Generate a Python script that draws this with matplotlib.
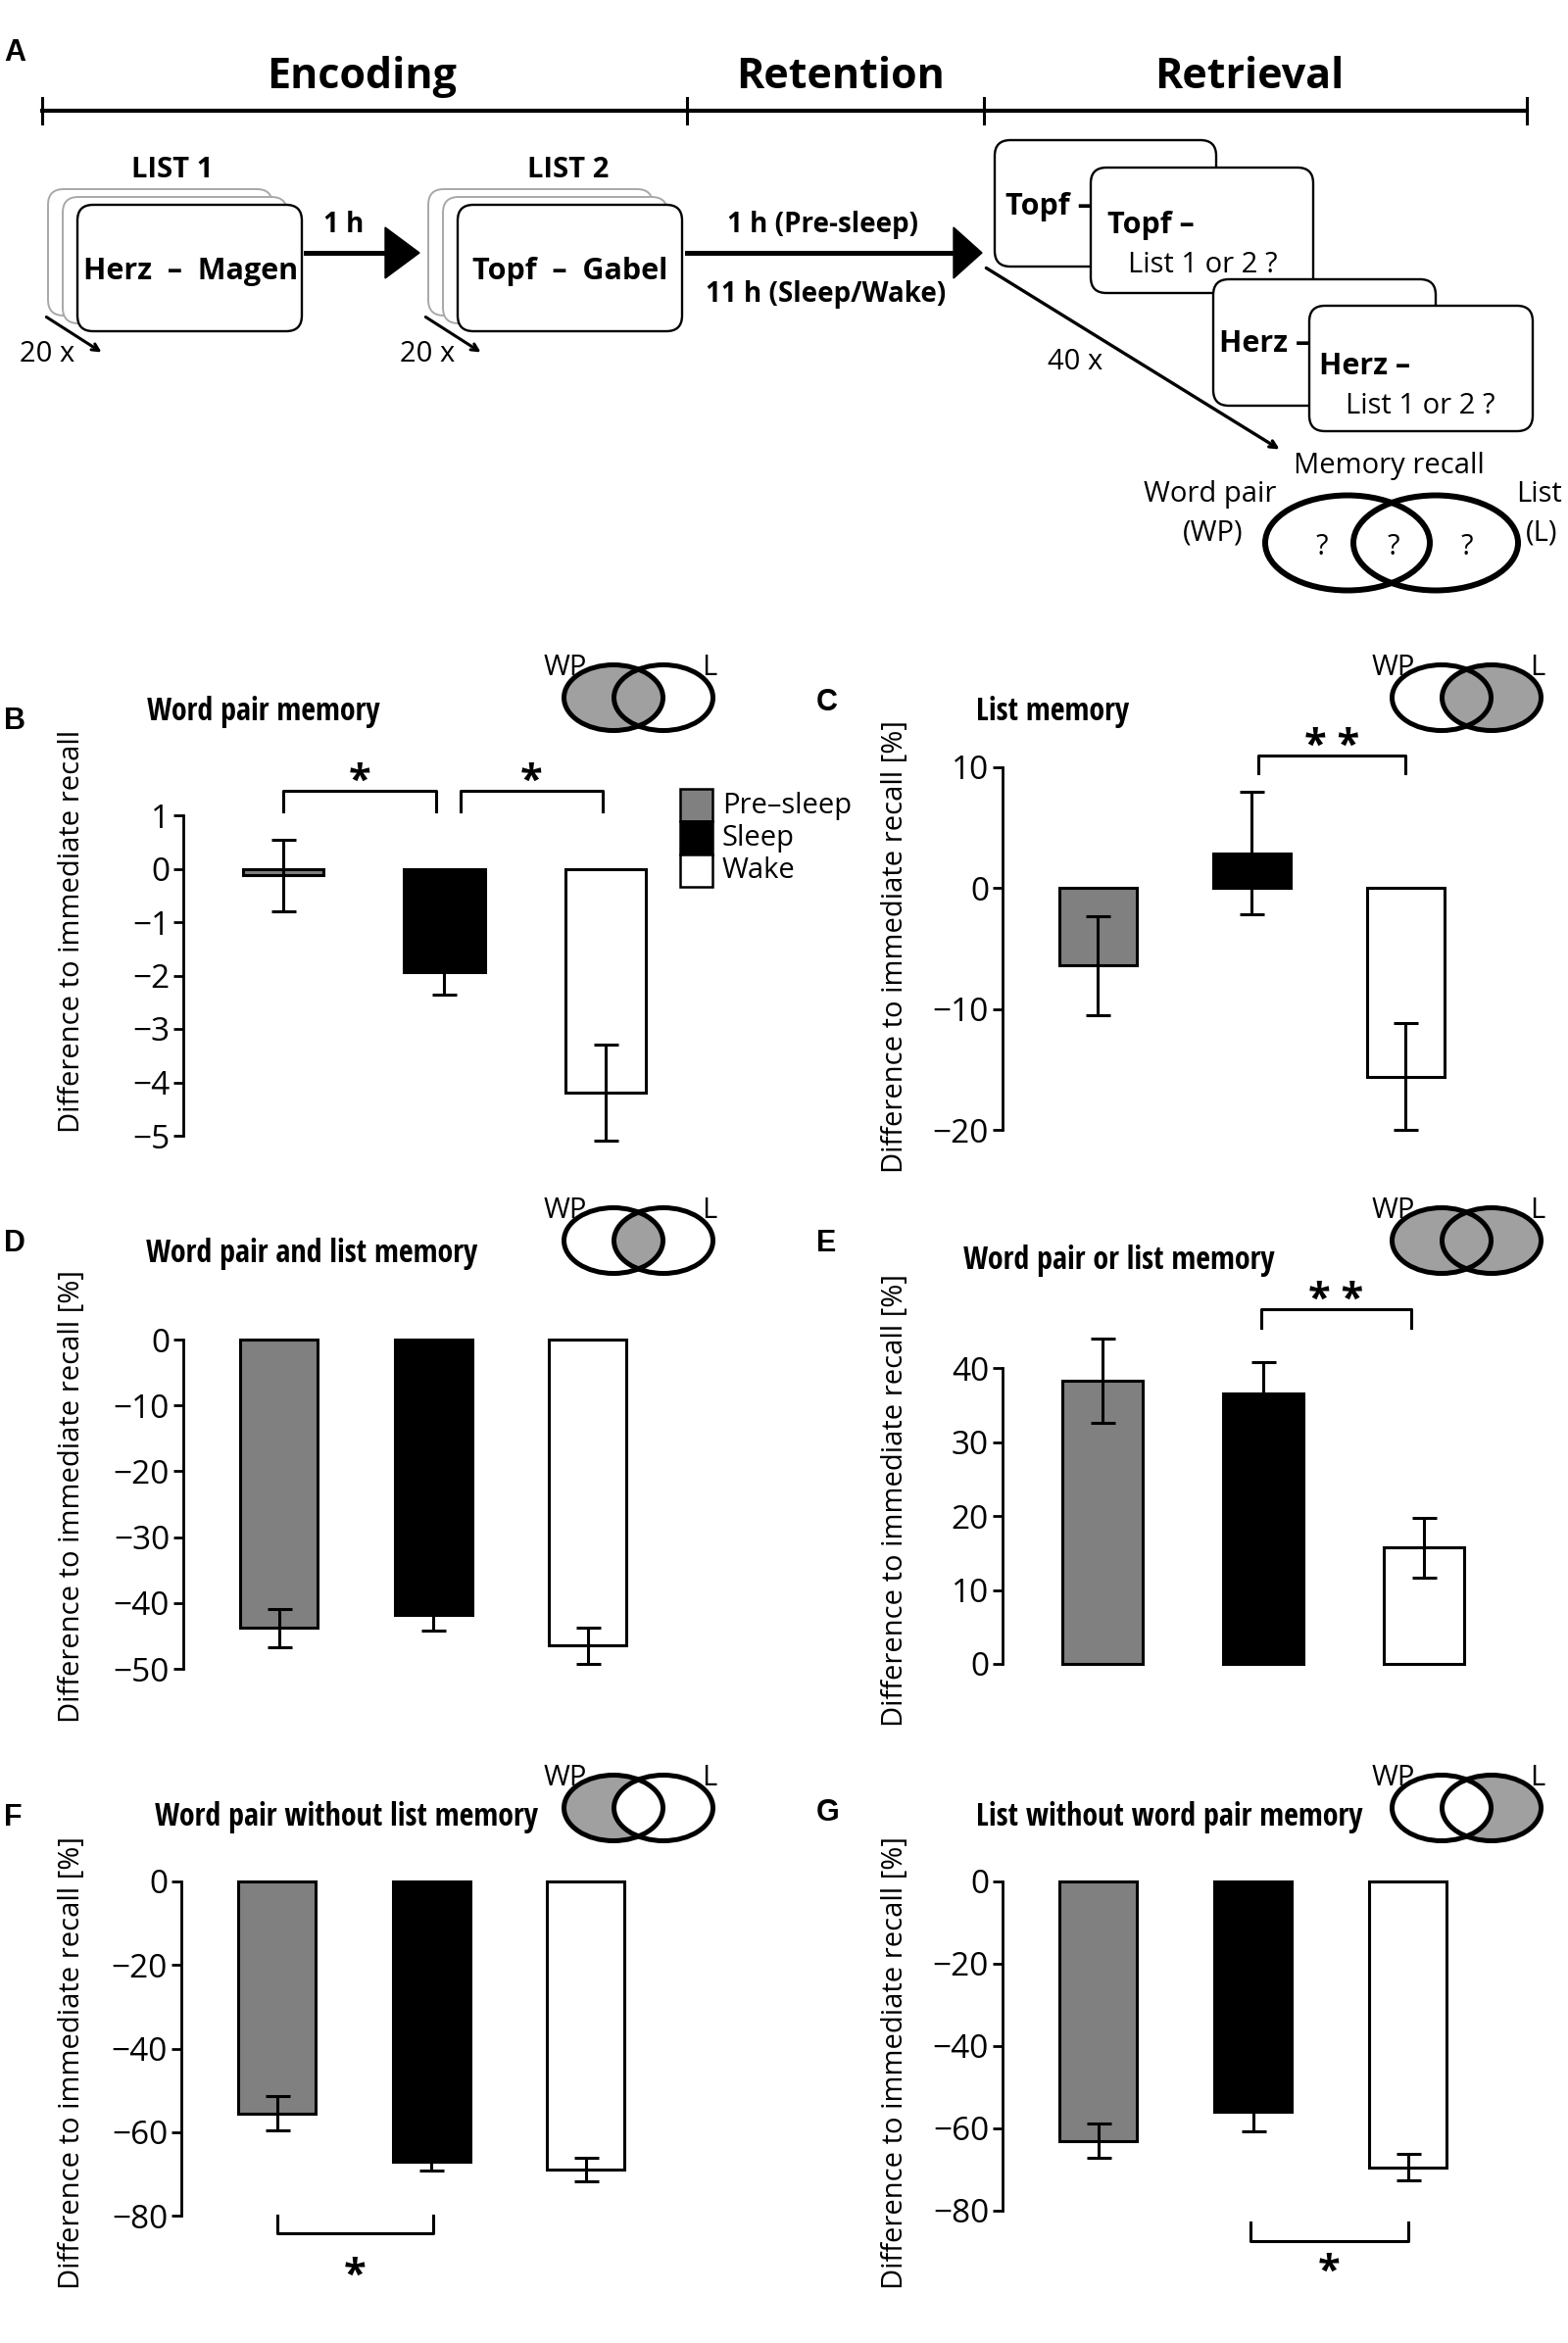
import matplotlib
matplotlib.use('Agg')
import matplotlib.pyplot as plt
from matplotlib import font_manager as fm
from matplotlib.patches import FancyBboxPatch, Ellipse, Polygon, Rectangle
import numpy as np

plt.rcParams['font.family'] = ['Open Sans', 'DejaVu Sans']
plt.rcParams['axes.unicode_minus'] = True

# ---- data ----
groups = ['Pre\u2013sleep', 'Sleep', 'Wake']
colors = ['#808080', '#000000', '#ffffff']

wp_mean = [-0.12, -1.93, -4.2]          # B word pair memory
wp_err = [0.67, 0.42, 0.9]
list_mean = [-6.4, 2.9, -15.6]          # C list memory
list_err = [4.1, 5.1, 4.4]
and_mean = [-43.8, -41.8, -46.5]        # D word pair and list
and_err = [2.9, 2.4, 2.7]
or_mean = [38.3, 36.5, 15.7]            # E word pair or list
or_err = [5.7, 4.3, 4.1]
wponly_mean = [-55.5, -67.0, -69.0]     # F word pair without list
wponly_err = [4.1, 2.2, 2.8]
lonly_mean = [-63.0, -56.0, -69.5]      # G list without word pair
lonly_err = [4.2, 4.7, 3.2]

W, H = 1600, 2391
fig = plt.figure(figsize=(W / 100, H / 100), dpi=100)
ov = fig.add_axes([0, 0, 1, 1])
ov.set_xlim(0, W)
ov.set_ylim(H, 0)
ov.axis('off')

LETTER = ['Liberation Sans', 'DejaVu Sans']


def have(name):
    try:
        fm.findfont(fm.FontProperties(family=name, weight='bold'), fallback_to_default=False)
        return True
    except ValueError:
        return False


# condensed bold font for the panel titles, with a size that keeps the widths
COND, TSIZE = ['Open Sans'], 19
for name, size in [('Liberation Sans Narrow', 24), ('Open Sans Condensed', 23),
                   ('DejaVu Sans Condensed', 18)]:
    if have(name):
        COND, TSIZE = [name, 'Open Sans'], size
        break


def card(x0, y0, x1, y1, ec='k', lw=1.7, z=2):
    ov.add_patch(FancyBboxPatch((x0, y0), x1 - x0, y1 - y0,
                                boxstyle='round,pad=0,rounding_size=16',
                                fc='white', ec=ec, lw=lw, zorder=z))


def arrow_head(xtip, y, length, half):
    ov.add_patch(Polygon([(xtip - length, y - half), (xtip, y), (xtip - length, y + half)],
                         closed=True, fc='k', ec='k', zorder=3))


# ---- panel A ----
ov.text(4, 62, 'A', fontsize=22, fontweight='bold', family=LETTER, va='baseline')
phases = ['Encoding', 'Retention', 'Retrieval']
ov.plot([43, 1558], [113, 113], color='k', lw=3)
for x in [43, 701, 1004, 1558]:
    ov.plot([x, x], [100, 126], color='k', lw=2.2)
for name, x in zip(phases, [369, 858, 1275]):
    ov.text(x, 90, name, ha='center', va='baseline', fontsize=31, fontweight='bold')

for fx, lab, word, lx, tx in [(79, 'LIST 1', 'Herz  \u2013  Magen', 176, 195),
                              (467, 'LIST 2', 'Topf  \u2013  Gabel', 580, 582)]:
    for k in (2, 1):
        card(fx - 15 * k, 209 - 8 * k, fx - 15 * k + 229, 338 - 8 * k, ec='#a8a8a8', lw=1.4)
    card(fx, 209, fx + 229, 338)
    ov.text(lx, 181, lab, ha='center', va='baseline', fontsize=21, fontweight='bold')
    ov.text(tx, 285, word, ha='center', va='baseline', fontsize=22, fontweight='bold', zorder=5)

for x0 in (20, 408):
    ov.text(x0, 369, '20 x', ha='left', va='baseline', fontsize=21)
for (x0, y0, x1, y1) in [(45, 322, 106, 361), (432, 322, 493, 361)]:
    ov.annotate('', xy=(x1, y1), xytext=(x0, y0),
                arrowprops=dict(arrowstyle='->,head_length=0.5,head_width=0.25', lw=2.2, color='k'))

# arrows between phases
ov.plot([312, 396], [258, 258], color='k', lw=3.6)
arrow_head(428, 258, 35, 26)
ov.text(351, 237, '1 h', ha='center', va='baseline', fontsize=20, fontweight='bold')
ov.plot([701, 976], [258, 258], color='k', lw=3.6)
arrow_head(1002, 258, 29, 26)
ov.text(839, 237, '1 h (Pre-sleep)', ha='center', va='baseline', fontsize=20, fontweight='bold')
ov.text(843, 308, '11 h (Sleep/Wake)', ha='center', va='baseline', fontsize=20, fontweight='bold')

# retrieval cards
card(1015, 143, 1241, 272, z=1)
ov.text(1026, 219, 'Topf \u2013', fontsize=22, fontweight='bold', va='baseline', zorder=1.5)
card(1113, 171, 1340, 299, z=2)
ov.text(1130, 238, 'Topf \u2013', fontsize=22, fontweight='bold', va='baseline', zorder=2.5)
ov.text(1151, 278, 'List 1 or 2 ?', fontsize=21, va='baseline', zorder=2.5)
card(1238, 285, 1465, 414, z=3)
ov.text(1244, 359, 'Herz \u2013', fontsize=22, fontweight='bold', va='baseline', zorder=3.5)
card(1336, 312, 1564, 440, z=4)
ov.text(1346, 382, 'Herz \u2013', fontsize=22, fontweight='bold', va='baseline', zorder=4.5)
ov.text(1373, 422, 'List 1 or 2 ?', fontsize=21, va='baseline', zorder=4.5)

ov.annotate('', xy=(1308, 460), xytext=(1004, 272),
            arrowprops=dict(arrowstyle='->,head_length=0.5,head_width=0.25', lw=2.4, color='k'))
ov.text(1069, 377, '40 x', fontsize=21, va='baseline')
ov.text(1417, 483, 'Memory recall', ha='center', va='baseline', fontsize=21)
ov.text(1235, 512, 'Word pair', ha='center', va='baseline', fontsize=21)
ov.text(1238, 552, '(WP)', ha='center', va='baseline', fontsize=21)
ov.text(1570, 512, 'List', ha='center', va='baseline', fontsize=21)
ov.text(1573, 552, '(L)', ha='center', va='baseline', fontsize=21)
for cx in (1375, 1465):
    ov.add_patch(Ellipse((cx, 554), 168, 97, fc='none', ec='k', lw=4.3))
for qx in (1349, 1422, 1497):
    ov.text(qx, 566, '?', ha='center', va='baseline', fontsize=21)


# ---- small venn icons ----
def venn(cx, cy, mode, w=101, h=67, dx=51, lw=3.6, fillc='#a0a0a0'):
    L, R = (cx, cy), (cx + dx, cy)
    if mode in ('left', 'both', 'left_only'):
        ov.add_patch(Ellipse(L, w, h, fc=fillc, ec='none'))
    if mode in ('right', 'both', 'right_only'):
        ov.add_patch(Ellipse(R, w, h, fc=fillc, ec='none'))
    if mode == 'left_only':
        ov.add_patch(Ellipse(R, w, h, fc='white', ec='none'))
    if mode == 'right_only':
        ov.add_patch(Ellipse(L, w, h, fc='white', ec='none'))
    if mode == 'inter':
        clip = Ellipse(R, w, h, transform=ov.transData)
        e = Ellipse(L, w, h, fc=fillc, ec='none')
        ov.add_patch(e)
        e.set_clip_path(clip)
    ov.add_patch(Ellipse(L, w, h, fc='none', ec='k', lw=lw))
    ov.add_patch(Ellipse(R, w, h, fc='none', ec='k', lw=lw))
    ov.text(cx - 71, cy - 23, 'WP', fontsize=21, va='baseline')
    ov.text(cx + 90, cy - 23, 'L', fontsize=21, va='baseline')


def bar_panel(xaxis, ytop, ybot, spacing, ylim, ticks, means, errs):
    ax = fig.add_axes([xaxis / W, 1 - ybot / H, spacing * 3.22 / W, (ybot - ytop) / H])
    ax.set_xlim(-0.62, 2.6)
    ax.set_ylim(*ylim)
    ax.patch.set_alpha(0)
    x = np.arange(len(groups))
    ax.bar(x, means, width=0.5, color=colors, edgecolor='k', linewidth=2.2,
           zorder=2, clip_on=False)
    eb = ax.errorbar(x, means, yerr=errs, fmt='none', ecolor='k', elinewidth=2.2,
                     capsize=9, capthick=2.2, zorder=3)
    for art in list(eb.lines[1]) + list(eb.lines[2]):
        art.set_clip_on(False)
    for s in ['top', 'right', 'bottom']:
        ax.spines[s].set_visible(False)
    ax.spines['left'].set_linewidth(2)
    ax.set_xticks([])
    ax.set_yticks(ticks)
    ax.tick_params(axis='y', direction='out', length=7, width=2, labelsize=24, pad=3)
    return ax


def bracket(ax, x0, x1, ytop, yleg, ystar, label):
    ax.plot([x0, x0, x1, x1], [yleg, ytop, ytop, yleg], color='k', lw=2.2, clip_on=False)
    ax.annotate(label, xy=((x0 + x1) / 2, ystar), xytext=(0, -15), textcoords='offset points',
                ha='center', va='baseline', fontsize=30, fontweight='bold', annotation_clip=False)


def title(x, y, s):
    ov.text(x, y, s, ha='center', va='baseline', fontsize=TSIZE, fontweight='bold', family=COND)


ylab = 'Difference to immediate recall'

# B
axB = bar_panel(187, 832, 1159, 164.5, (-5, 1), np.arange(-5, 2), wp_mean, wp_err)
bracket(axB, 0, 0.95, 1.45, 1.08, 1.8, '*')
bracket(axB, 1.1, 1.98, 1.45, 1.08, 1.8, '*')
for i, (g, c) in enumerate(zip(groups, colors)):
    ov.add_patch(Rectangle((694, 805 + 33.3 * i), 33, 33.3, fc=c, ec='k', lw=1.8))
    ov.text(737, 830 + 33 * i, g, fontsize=21, va='baseline')
ov.text(74, 950, ylab, rotation=90, ha='center', va='center', fontsize=21)
ov.text(4, 744, 'B', fontsize=22, fontweight='bold', family=LETTER, va='baseline')
title(269, 735, 'Word pair memory')
venn(626, 712, 'left')

# C
axC = bar_panel(1023, 783, 1153, 157, (-20, 10), [-20, -10, 0, 10], list_mean, list_err)
bracket(axC, 1.04, 2.0, 10.98, 9.5, 12.5, '* *')
ov.text(913, 966, ylab + ' [%]', rotation=90, ha='center', va='center', fontsize=21)
ov.text(833, 725, 'C', fontsize=22, fontweight='bold', family=LETTER, va='baseline')
title(1074, 735, 'List memory')
venn(1471, 712, 'right')

# D
axD = bar_panel(187, 1367, 1703, 157.5, (-50, 0), np.arange(-50, 1, 10), and_mean, and_err)
ov.text(74, 1527, ylab + ' [%]', rotation=90, ha='center', va='center', fontsize=21)
ov.text(4, 1277, 'D', fontsize=22, fontweight='bold', family=LETTER, va='baseline')
title(318, 1288, 'Word pair and list memory')
venn(626, 1266, 'inter')

# E
axE = bar_panel(1023, 1396, 1698, 164, (0, 40), np.arange(0, 41, 10), or_mean, or_err)
bracket(axE, 0.99, 1.92, 47.9, 45.4, 50.5, '* *')
ov.text(913, 1531, ylab + ' [%]', rotation=90, ha='center', va='center', fontsize=21)
ov.text(833, 1277, 'E', fontsize=22, fontweight='bold', family=LETTER, va='baseline')
title(1142, 1295, 'Word pair or list memory')
venn(1471, 1266, 'both')

# F
axF = bar_panel(185, 1920, 2261, 157.5, (-80, 0), np.arange(-80, 1, 20), wponly_mean, wponly_err)
bracket(axF, 0, 1.01, -84.2, -80, -92.1, '*')
ov.text(74, 2105, ylab + ' [%]', rotation=90, ha='center', va='center', fontsize=21)
ov.text(4, 1863, 'F', fontsize=22, fontweight='bold', family=LETTER, va='baseline')
title(354, 1863, 'Word pair without list memory')
venn(626, 1845, 'left_only')

# G
axG = bar_panel(1023, 1920, 2256, 158, (-80, 0), np.arange(-80, 1, 20), lonly_mean, lonly_err)
bracket(axG, 0.98, 2.0, -87.4, -82.9, -92.6, '*')
ov.text(913, 2105, ylab + ' [%]', rotation=90, ha='center', va='center', fontsize=21)
ov.text(833, 1858, 'G', fontsize=22, fontweight='bold', family=LETTER, va='baseline')
title(1193, 1863, 'List without word pair memory')
venn(1471, 1845, 'right_only')

fig.savefig('out.png', dpi=100)
